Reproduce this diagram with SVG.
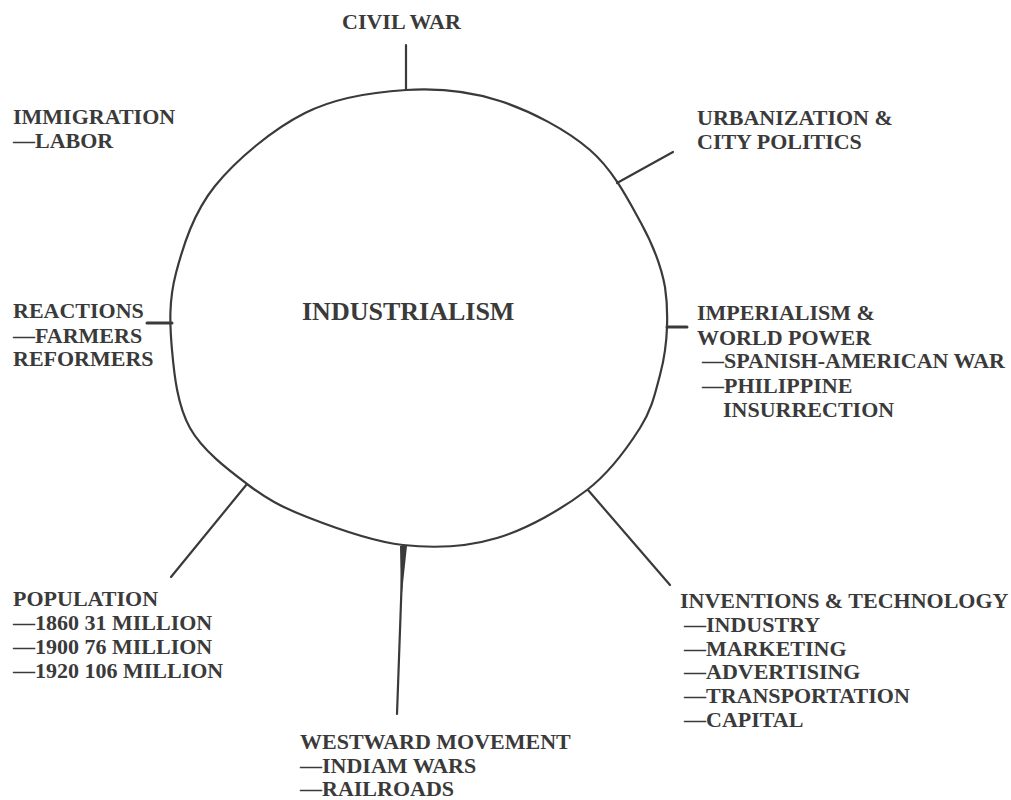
<svg xmlns="http://www.w3.org/2000/svg" width="1011" height="800" viewBox="0 0 1011 800">
<style>
  text { font-family: "Liberation Serif", "Times New Roman", serif; font-weight: bold; font-size: 22px; fill: #3a3a3a; }
  .big { font-size: 26px; }
  .ln { stroke: #3a3a3a; stroke-width: 2.2; fill: none; stroke-linecap: round; stroke-linejoin: round; }
</style>
<rect width="1011" height="800" fill="#ffffff"/>
<g id="industrialism">
  <path class="ln" d="M 406,90 C 438.5,88 469.3,91 500,101 C 530.7,111 566.5,129.7 590,150 C 613.5,170.3 628.5,200.2 641,223 C 653.5,245.8 661,265 665,287 C 667,300 667.5,313 667,327 C 666.5,343 664.5,358.2 660,375 C 655.5,391.8 652.2,408.8 640,428 C 627.8,447.2 610.8,471.7 587,490 C 563.2,508.3 527.7,528.8 497,538 C 466.3,547.2 434.7,548.5 403,545 C 371.3,541.5 333,527.2 307,517 C 281,506.8 266.5,498.8 247,484 C 227.5,469.2 202.5,450.3 190,428 C 177.5,405.7 174.3,375.8 172,350 C 169.7,324.2 168.8,300.3 176,273 C 183.2,245.7 193.5,212.7 215,186 C 236.5,159.3 273.2,129 305,113 C 336.8,97 373.5,92 406,90 Z"/>
  <text class="big" x="302" y="320">INDUSTRIALISM</text>
</g>
<g id="connectors">
  <line class="ln" x1="406" y1="45" x2="406" y2="90"/>
  <line class="ln" x1="617" y1="183" x2="673" y2="152"/>
  <line class="ln" x1="667" y1="327" x2="687" y2="327" style="stroke-width:3"/>
  <line class="ln" x1="588" y1="490" x2="670" y2="585"/>
  <line class="ln" x1="403" y1="546" x2="397" y2="714"/>
  <polygon points="400,546 407,546 401,602" fill="#3a3a3a"/>
  <line class="ln" x1="247" y1="484" x2="171" y2="577"/>
  <line class="ln" x1="147" y1="323" x2="172" y2="323" style="stroke-width:3"/>
</g>
<g id="civil-war">
  <text x="342" y="29">CIVIL WAR</text>
</g>
<g id="immigration">
  <text x="13" y="124">IMMIGRATION</text>
  <text x="13" y="148">—LABOR</text>
</g>
<g id="urbanization">
  <text x="697" y="125">URBANIZATION &amp;</text>
  <text x="697" y="149">CITY POLITICS</text>
</g>
<g id="reactions">
  <text x="13" y="318">REACTIONS</text>
  <text x="13" y="343">—FARMERS</text>
  <text x="13" y="366">REFORMERS</text>
</g>
<g id="imperialism">
  <text x="697" y="320">IMPERIALISM &amp;</text>
  <text x="697" y="345">WORLD POWER</text>
  <text x="702" y="368">—SPANISH-AMERICAN WAR</text>
  <text x="702" y="393">—PHILIPPINE</text>
  <text x="723" y="417">INSURRECTION</text>
</g>
<g id="population">
  <text x="13" y="606">POPULATION</text>
  <text x="13" y="630">—1860 31 MILLION</text>
  <text x="13" y="654">—1900 76 MILLION</text>
  <text x="13" y="678">—1920 106 MILLION</text>
</g>
<g id="westward">
  <text x="300" y="749">WESTWARD MOVEMENT</text>
  <text x="300" y="773">—INDIAM WARS</text>
  <text x="300" y="796">—RAILROADS</text>
</g>
<g id="inventions">
  <text x="680" y="608">INVENTIONS &amp; TECHNOLOGY</text>
  <text x="684" y="632">—INDUSTRY</text>
  <text x="684" y="656">—MARKETING</text>
  <text x="684" y="679">—ADVERTISING</text>
  <text x="684" y="703">—TRANSPORTATION</text>
  <text x="684" y="727">—CAPITAL</text>
</g>
</svg>
